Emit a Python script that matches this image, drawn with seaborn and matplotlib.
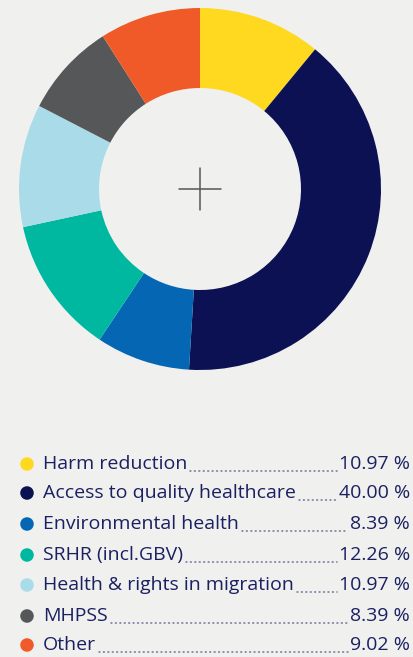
import matplotlib
matplotlib.use("Agg")
import matplotlib.pyplot as plt
import seaborn as sns

# Data
labels = ["Harm reduction", "Access to quality healthcare", "Environmental health",
          "SRHR (incl.GBV)", "Health & rights in migration", "MHPSS", "Other"]
shares = [10.97, 40.00, 8.39, 12.26, 10.97, 8.39, 9.02]
value_labels = ["10.97 %", "40.00 %", "8.39 %", "12.26 %", "10.97 %", "8.39 %", "9.02 %"]
colors = ["#ffd91f", "#0b1153", "#0567b4", "#00b7a0", "#a9dbe8", "#565759", "#f05a29"]

sns.set_style("white")
plt.rcParams["font.family"] = ["Open Sans", "DejaVu Sans"]
bg = "#f0f0ef"
text_col = "#1b2060"

fig = plt.figure(figsize=(4.14, 6.57), dpi=100, facecolor=bg)
W, H = 414, 657

# donut
cx, cy, r = 200, 189, 181
ax = fig.add_axes([(cx - r) / W, 1 - (cy + r) / H, 2 * r / W, 2 * r / H])
ax.set_facecolor(bg)
ax.pie(shares, colors=sns.color_palette(colors), startangle=90, counterclock=False,
       wedgeprops=dict(width=80 / 181, edgecolor="none"))
ax.set_xlim(-1, 1)
ax.set_ylim(-1, 1)
ax.set_aspect("equal")
ax.axis("off")
# center cross
ax.plot([-21 / 181, 21 / 181], [0, 0], color="#555555", lw=1.1)
ax.plot([0, 0], [-21 / 181, 21 / 181], color="#555555", lw=1.1)

# legend list
lax = fig.add_axes([0, 0, 1, 1])
lax.set_xlim(0, W)
lax.set_ylim(H, 0)
lax.axis("off")
lax.patch.set_alpha(0)

rows_y = [464, 493, 524, 555, 585, 616, 645]
fig.canvas.draw()
renderer = fig.canvas.get_renderer()
inv = lax.transData.inverted()
for lab, val, col, y in zip(labels, value_labels, colors, rows_y):
    lax.scatter([27], [y], s=95, color=col, edgecolor="none")
    t1 = lax.text(43, y, lab, fontsize=14, color=text_col, va="center", ha="left")
    t2 = lax.text(410, y, val, fontsize=14, color=text_col, va="center", ha="right")
    b1 = t1.get_window_extent(renderer)
    b2 = t2.get_window_extent(renderer)
    x0 = inv.transform((b1.x1, 0))[0] + 3
    x1 = inv.transform((b2.x0, 0))[0] - 2
    lax.plot([x0, x1], [y + 6.5, y + 6.5], color="#6e7196", lw=1.1, ls=(0, (0.6, 2.3)),
             dash_capstyle="round")

fig.savefig("out.png", dpi=100, facecolor=bg)
